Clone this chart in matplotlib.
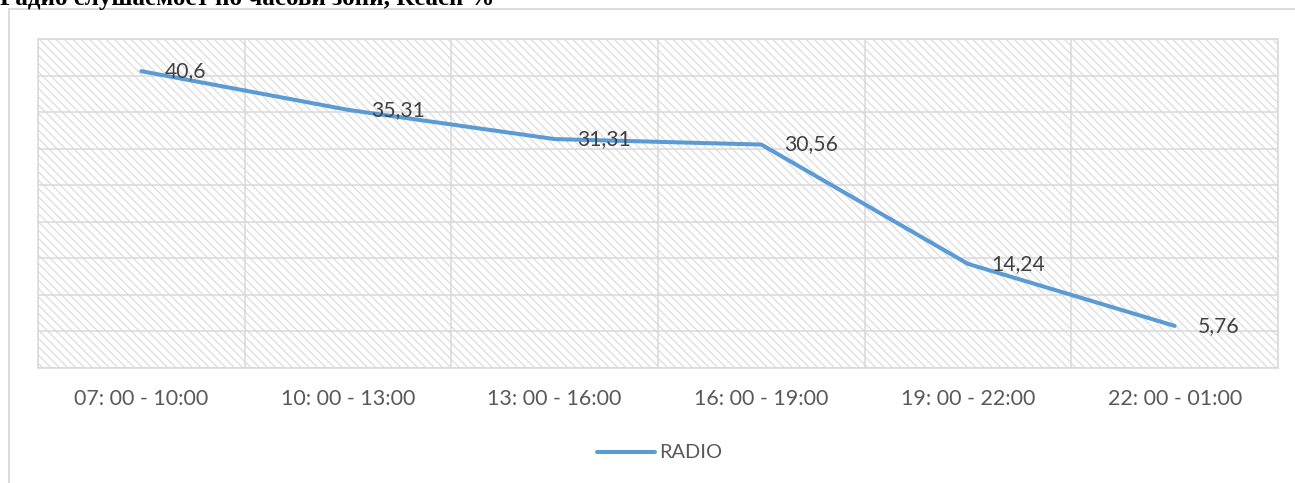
import matplotlib
matplotlib.use("Agg")
import matplotlib.pyplot as plt
from matplotlib.patches import Rectangle
from matplotlib.lines import Line2D

# data
slots = ["07: 00 - 10:00", "10: 00 - 13:00", "13: 00 - 16:00",
         "16: 00 - 19:00", "19: 00 - 22:00", "22: 00 - 01:00"]
radio = [40.6, 35.31, 31.31, 30.56, 14.24, 5.76]
radio_labels = ["40,6", "35,31", "31,31", "30,56", "14,24", "5,76"]
title = "Радио слушаемост по часови зони, Reach %"

W, H = 1295, 483
grid_col = "#d9d9d9"
line_col = "#5b9bd5"

plt.rcParams['font.family'] = ['Lato', 'DejaVu Sans']

fig = plt.figure(figsize=(W / 100, H / 100), dpi=100)
ax = fig.add_axes([38 / W, 1 - 368 / H, (1278 - 38) / W, (368 - 39) / H])

# outer chart border (only left and top visible)
fig.add_artist(Line2D([9 / W, 9 / W], [0, 1 - 9 / H], color=grid_col, lw=1.3))
fig.add_artist(Line2D([9 / W, 1], [1 - 9 / H, 1 - 9 / H], color=grid_col, lw=1.3))

# cut-off title at the very top
fig.text(0, 1 - 5.5 / H, title, family='Liberation Serif', weight='bold',
         fontsize=18, color='black', ha='left', va='baseline')

# hatched plot area
plt.rcParams['hatch.color'] = grid_col
plt.rcParams['hatch.linewidth'] = 0.8
ax.add_patch(Rectangle((0, 0), 1, 1, transform=ax.transAxes, facecolor='white',
                       hatch='\\\\\\\\', edgecolor=grid_col, lw=0, zorder=0))

x = list(range(len(slots)))
ax.plot(x, radio, color=line_col, lw=2.9, solid_capstyle='round', zorder=3,
        label="RADIO")

for xi, v, lab in zip(x, radio, radio_labels):
    ax.annotate(lab, (xi, v), xytext=(16.5, 0), textcoords='offset points',
                ha='left', va='center', fontsize=15.2, color='#404040', zorder=4)

ax.set_xlim(-0.5, len(slots) - 0.5)
ax.set_ylim(0, 45)
ax.set_yticks(range(0, 46, 5))
ax.set_yticklabels([])
ax.set_xticks([i + 0.5 for i in range(-1, len(slots))], minor=False)
ax.set_xticklabels([])
ax.set_xticks(x, minor=True)
ax.set_xticklabels(slots, minor=True, fontsize=15.4, color='#595959')
ax.tick_params(which='both', length=0)
ax.tick_params(axis='x', which='minor', pad=15)
ax.grid(True, which='major', color=grid_col, lw=1.1, zorder=1)
ax.set_axisbelow(True)
for s in ax.spines.values():
    s.set_color(grid_col)
    s.set_linewidth(1.1)

fig.legend(loc='center', bbox_to_anchor=(660 / W, 1 - 453 / H), frameon=False,
           fontsize=14.4, handlelength=2.9, handletextpad=0.2,
           labelcolor='#595959')

fig.savefig("out.png", dpi=100)
